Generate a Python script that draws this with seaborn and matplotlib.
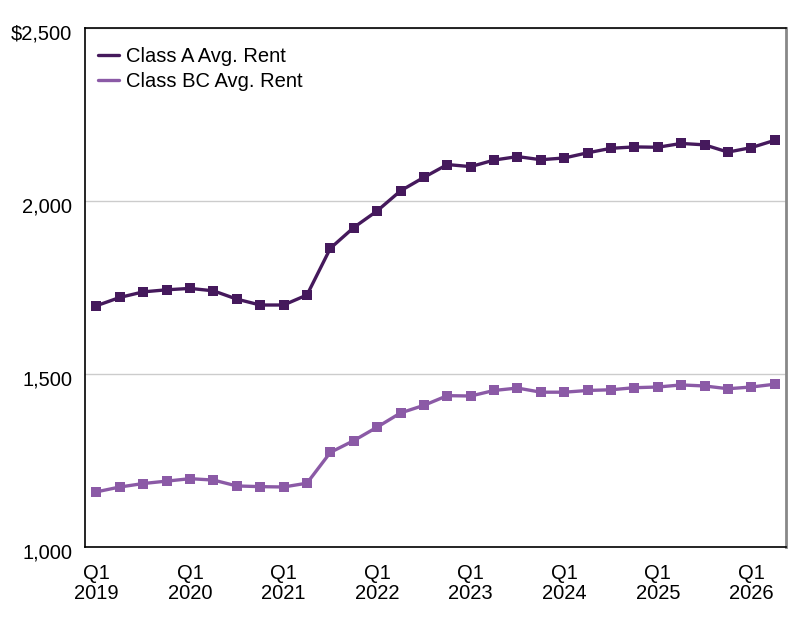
#!/usr/bin/env python3
import matplotlib
matplotlib.use('Agg')
import matplotlib.pyplot as plt
import matplotlib.transforms as mtransforms
import seaborn as sns
import pandas as pd

# Quarterly rents, Q1 2019 - Q2 2026
quarters = [f'Q{q} {y}' for y in range(2019, 2027) for q in range(1, 5)][:30]
class_a = [1697, 1721, 1737, 1743, 1747, 1740, 1716, 1699, 1699, 1728,
           1863, 1923, 1971, 2029, 2068, 2105, 2099, 2118, 2128, 2119,
           2124, 2139, 2152, 2156, 2155, 2166, 2162, 2141, 2154, 2175]
class_bc = [1159, 1173, 1183, 1190, 1197, 1193, 1176, 1174, 1173, 1184,
            1273, 1307, 1346, 1387, 1409, 1437, 1436, 1452, 1459, 1447,
            1447, 1452, 1454, 1460, 1462, 1468, 1465, 1457, 1462, 1470]
series_names = ['Class A Avg. Rent', 'Class BC Avg. Rent']
colors = ['#45195c', '#8b5aa6']
tick_labels = [f'Q1\n{y}' for y in range(2019, 2027)]
y_ticks = [1000, 1500, 2000, 2500]
y_labels = ['1,000', '1,500', '2,000', '$2,500']

df = pd.DataFrame({
    'idx': list(range(len(quarters))) * 2,
    'rent': class_a + class_bc,
    'series': [series_names[0]] * len(class_a) + [series_names[1]] * len(class_bc),
})

sns.set_theme(style='white')
plt.rcParams['font.family'] = ['Liberation Sans', 'DejaVu Sans']
plt.rcParams['text.color'] = 'black'
plt.rcParams['xtick.color'] = 'black'
plt.rcParams['ytick.color'] = 'black'
fs = 14.5

fig = plt.figure(figsize=(8, 6.2), dpi=100)
ax = fig.add_axes([0.106, 0.118, 0.877, 0.837])

sns.lineplot(data=df, x='idx', y='rent', hue='series', palette=colors,
             marker='s', markersize=6.5, markeredgewidth=0, linewidth=2.4,
             ax=ax, legend=False)

ax.set_xlim(-0.5, 29.5)
ax.set_ylim(1000, 2500)
ax.set_yticks(y_ticks)
ax.set_yticklabels(y_labels, fontsize=fs)
ax.set_xticks(list(range(0, 30, 4)))
ax.set_xticklabels(tick_labels, fontsize=fs, linespacing=1.1)
ax.tick_params(axis='y', length=0, pad=9, labelcolor='black')
ax.tick_params(axis='x', length=0, pad=12, labelcolor='black')
ax.set_xlabel('')
ax.set_ylabel('')
ax.yaxis.grid(True, color='#cccccc', linewidth=1)
ax.set_axisbelow(True)

# y labels sit a little below their gridlines in the original
shift = mtransforms.ScaledTranslation(0, -4 / 100, fig.dpi_scale_trans)
for lbl in ax.get_yticklabels():
    lbl.set_transform(lbl.get_transform() + shift)

for s in ['left', 'top', 'bottom']:
    ax.spines[s].set_color('black')
    ax.spines[s].set_linewidth(1.2)
ax.spines['right'].set_color('#888888')
ax.spines['right'].set_linewidth(2)

handles = [plt.Line2D([], [], color=c, linewidth=2.4) for c in colors]
leg = ax.legend(handles, series_names, loc='upper left', frameon=False,
                fontsize=fs, handlelength=1.05, handletextpad=0.35,
                labelspacing=0.3, borderaxespad=0.55,
                bbox_to_anchor=(-0.0086, 1.0))
for t in leg.get_texts():
    t.set_color('black')

plt.savefig('out.png', dpi=100)
